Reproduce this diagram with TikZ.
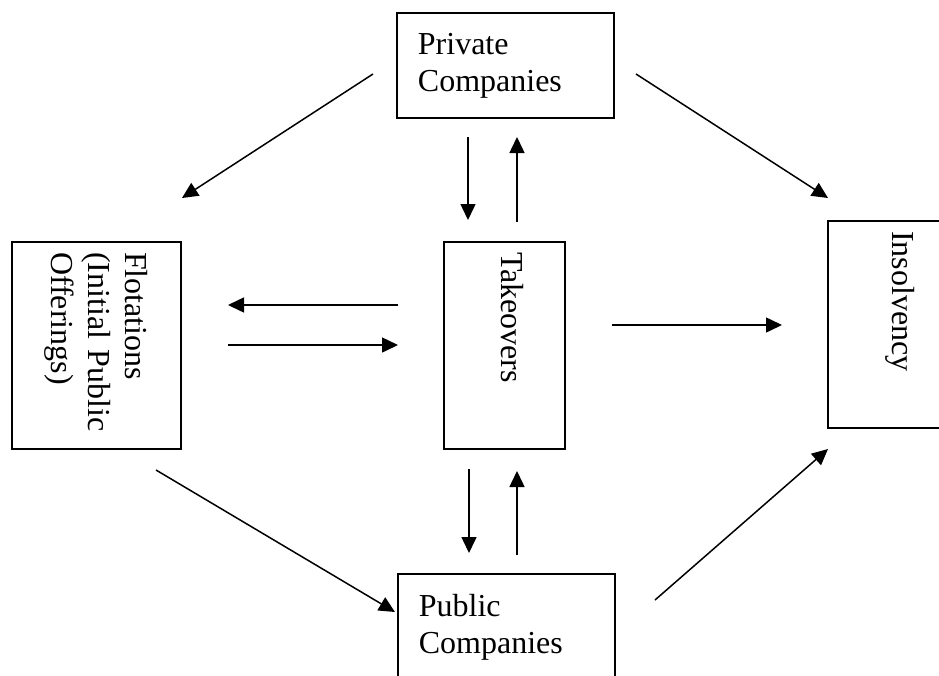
\documentclass[tikz,border=0pt]{standalone}
\usepackage{fontspec}
\setmainfont{Liberation Serif}
\usetikzlibrary{arrows.meta}
\begin{document}
\begin{tikzpicture}[x=1pt,y=-1pt,
        box/.style={draw, line width=1.8pt, inner sep=0pt, font=\fontsize{32}{37}\selectfont},
        flatbox/.style={box, anchor=north west, align=left, text width=175pt, inner xsep=21pt, inner ysep=20pt},
        tallbox/.style={box, rotate=-90, align=left, text width=187pt, inner xsep=10pt},
        link/.style={line width=1.5pt, -{Triangle[length=16pt,width=15pt]}}]

        \useasboundingbox (0,0) rectangle (939,675);

        % Draw the company boxes
        \node[flatbox] (private) at (396,12) {Private\\Companies};
        \node[flatbox] (public) at (397,573) {Public\\Companies};

        % Draw the upright boxes
        \node[tallbox, minimum height=169pt] (flotations) at (96.5,345.5) {Flotations\\(Initial Public\\Offerings)};
        \node[tallbox, minimum height=121pt] (takeovers) at (504.5,345.5) {\raisebox{8pt}[\height][\depth]{Takeovers}};
        \node[tallbox, minimum height=144pt] (insolvency) at (900,324.5) {Insolvency};

        % Ends of the arrows
        \coordinate (privFlotS) at (373,74);   \coordinate (privFlotE) at (182,198);
        \coordinate (privInsS) at (636,74);    \coordinate (privInsE) at (828,198);
        \coordinate (privTakS) at (468,137);   \coordinate (privTakE) at (468,220);
        \coordinate (takPrivS) at (517,222);   \coordinate (takPrivE) at (517,137);
        \coordinate (takFlotS) at (398,305);   \coordinate (takFlotE) at (228,305);
        \coordinate (flotTakS) at (228,345);   \coordinate (flotTakE) at (398,345);
        \coordinate (takInsS) at (612,325);    \coordinate (takInsE) at (782,325);
        \coordinate (takPubS) at (469,469);    \coordinate (takPubE) at (469,553);
        \coordinate (pubTakS) at (517,555);    \coordinate (pubTakE) at (517,471);
        \coordinate (flotPubS) at (156,470);   \coordinate (flotPubE) at (395,612);
        \coordinate (pubInsS) at (655,600);    \coordinate (pubInsE) at (828,449);

        % Draw the arrows
        \foreach \a/\b in {privFlotS/privFlotE, privInsS/privInsE, privTakS/privTakE,
                takPrivS/takPrivE, takFlotS/takFlotE, flotTakS/flotTakE, takInsS/takInsE,
                takPubS/takPubE, pubTakS/pubTakE, flotPubS/flotPubE, pubInsS/pubInsE}
            \draw[link] (\a) -- (\b);

    \end{tikzpicture}
\end{document}
